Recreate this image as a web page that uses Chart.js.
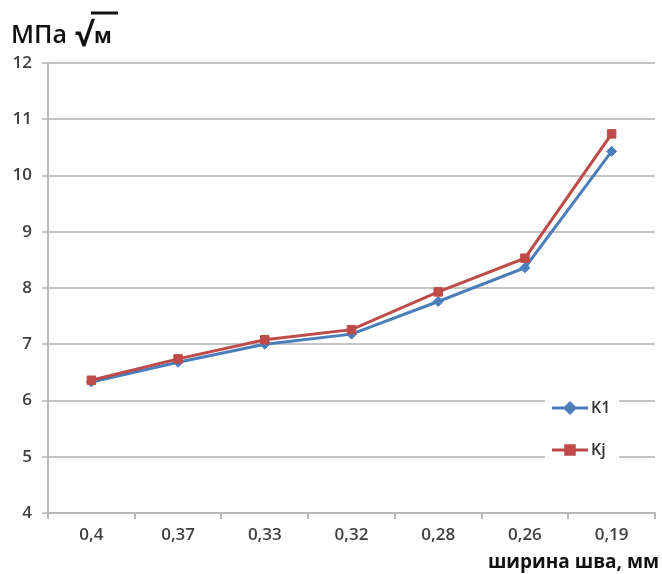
<!DOCTYPE html>
<html>
<head>
<meta charset="utf-8">
<script src="https://cdn.jsdelivr.net/npm/chart.js@4"></script>
<style>
  html, body { margin: 0; padding: 0; background: #fff; }
  #wrap { width: 662px; height: 574px; }
</style>
</head>
<body>
<div id="wrap"><canvas id="chart" width="662" height="574"></canvas></div>
<script>
var widths = ["0,4", "0,37", "0,33", "0,32", "0,28", "0,26", "0,19"];
var k1 = [6.33, 6.68, 7.0, 7.18, 7.76, 8.36, 10.43];
var kj = [6.36, 6.74, 7.08, 7.26, 7.93, 8.53, 10.74];
var seriesNames = ["K1", "Kj"];
var yTicks = [4, 5, 6, 7, 8, 9, 10, 11, 12];

var blue = "#4a7ebb";
var red = "#be4b48";
var font = "'Open Sans', 'Liberation Sans', sans-serif";

// unit label top-left, axis title and legend inside the plot
var extras = {
  id: 'extras',
  afterDraw: function(chart){
    var ctx = chart.ctx;
    ctx.save();
    ctx.fillStyle = "#111";
    ctx.textBaseline = "alphabetic";
    ctx.font = "600 25px " + font;
    ctx.fillText("МПа", 11, 43);
    ctx.font = "bold 32px " + font;
    ctx.fillText("√", 75, 46);
    ctx.font = "bold 21px " + font;
    ctx.fillText("м", 94, 43);
    ctx.strokeStyle = "#111";
    ctx.lineWidth = 3;
    ctx.beginPath();
    ctx.moveTo(91, 13);
    ctx.lineTo(118, 13);
    ctx.stroke();

    // x axis title
    ctx.font = "bold 19px " + font;
    ctx.textAlign = "right";
    ctx.fillText("ширина шва, мм", 659, 568);

    // legend
    ctx.textAlign = "left";
    ctx.fillStyle = "#fff";
    ctx.fillRect(545, 390, 74, 72);
    chart.data.datasets.forEach(function(ds, i){
      var y = 408 + i * 42;
      ctx.strokeStyle = ds.borderColor;
      ctx.lineWidth = 3;
      ctx.beginPath();
      ctx.moveTo(552, y);
      ctx.lineTo(588, y);
      ctx.stroke();
      Chart.helpers.drawPoint(ctx, {
        pointStyle: ds.pointStyle,
        radius: ds.pointRadius,
        borderWidth: 1
      }, 570, y);
      ctx.fillStyle = ds.borderColor;
      ctx.fill();
      ctx.fillStyle = "#333";
      ctx.font = "600 16px " + font;
      ctx.textBaseline = "middle";
      ctx.fillText(ds.label, 591, y);
    });
    ctx.restore();
  }
};

var ctx = document.getElementById("chart");
var lineChart = new Chart(ctx, {
  type: 'line',
  data: {
    labels: widths,
    datasets: [{
      label: seriesNames[0],
      data: k1,
      order: 1,
      borderColor: blue,
      backgroundColor: blue,
      borderWidth: 3,
      pointStyle: 'rectRot',
      pointRadius: 5,
      pointBorderWidth: 1,
      tension: 0
    }, {
      label: seriesNames[1],
      data: kj,
      order: 0,
      borderColor: red,
      backgroundColor: red,
      borderWidth: 3,
      pointStyle: 'rect',
      pointRadius: 6,
      pointBorderWidth: 1,
      tension: 0
    }]
  },
  options: {
    responsive: false,
    animation: false,
    layout: {
      padding: { left: 0, right: 5, top: 63, bottom: 0 }
    },
    plugins: {
      legend: { display: false },
      tooltip: { enabled: false }
    },
    scales: {
      x: {
        offset: true,
        grid: {
          offset: true,
          drawOnChartArea: false,
          color: "#b8b8b8",
          lineWidth: 2,
          tickLength: 6
        },
        border: { color: "#b8b8b8", width: 2 },
        ticks: {
          color: "#404040",
          font: { family: font, size: 17, weight: '600' },
          padding: 6,
          maxRotation: 0
        },
        afterFit: function(scale){ scale.height = 61; }
      },
      y: {
        min: 4,
        max: 12,
        afterBuildTicks: function(scale){
          scale.ticks = yTicks.map(function(v){ return { value: v }; });
        },
        grid: {
          color: "#c4c4c4",
          lineWidth: 2,
          tickLength: 6
        },
        border: { color: "#b8b8b8", width: 2 },
        ticks: {
          color: "#404040",
          font: { family: font, size: 17, weight: '600' },
          padding: 10
        },
        afterFit: function(scale){ scale.width = 48; }
      }
    }
  },
  plugins: [extras]
});
</script>
</body>
</html>
